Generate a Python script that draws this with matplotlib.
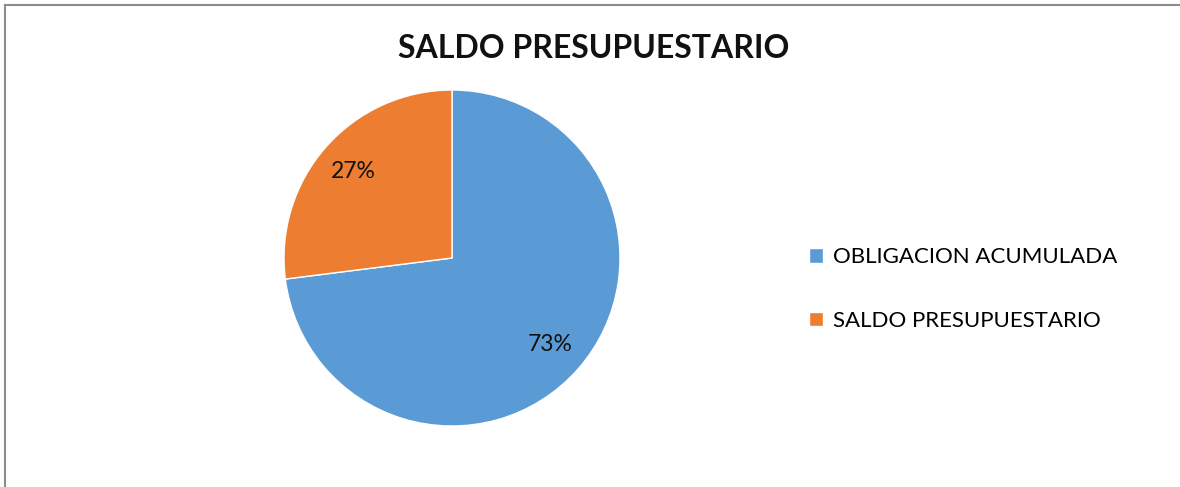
import matplotlib.pyplot as plt
from matplotlib.lines import Line2D

labels = ["OBLIGACION ACUMULADA", "SALDO PRESUPUESTARIO"]
values = [73, 27]
colors = ["#5B9BD5", "#ED7D31"]
title = "SALDO PRESUPUESTARIO"

W, H = 1180, 487
fig = plt.figure(figsize=(W / 100, H / 100), dpi=100)
plt.rcParams["font.family"] = ["Lato", "DejaVu Sans"]

# pie placed in pixel terms: centre (452, 258), radius 168
cx, cy, r = 452, 258, 168
ax = fig.add_axes([(cx - r) / W, (H - cy - r) / H, 2 * r / W, 2 * r / H])
wedges, _, autotexts = ax.pie(
    values,
    colors=colors,
    startangle=90,
    counterclock=False,
    autopct="%1.0f%%",
    pctdistance=0.78,
    radius=1,
    wedgeprops={"edgecolor": "white", "linewidth": 1},
    textprops={"fontsize": 16.5, "color": "#111111"},
)
ax.set_xlim(-1, 1)
ax.set_ylim(-1, 1)
ax.set_aspect("auto")

fig.text(594 / W, 1 - 49 / H, title, ha="center", va="center",
         fontsize=23, fontweight="bold", color="#111111")

fig.legend(wedges, labels, loc="center left", bbox_to_anchor=(789 / W, 1 - 289 / H),
           frameon=False, fontsize=16, handlelength=0.62, handleheight=0.62,
           handletextpad=0.45, labelspacing=1.95)

# chart area frame (only left and top edges visible)
fig.add_artist(Line2D([4.5 / W, 4.5 / W], [0, 1 - 4.5 / H], color="#8c8c8c", lw=1.5))
fig.add_artist(Line2D([4.5 / W, 1], [1 - 4.5 / H, 1 - 4.5 / H], color="#8c8c8c", lw=1.5))

fig.savefig("out.png", dpi=100)
